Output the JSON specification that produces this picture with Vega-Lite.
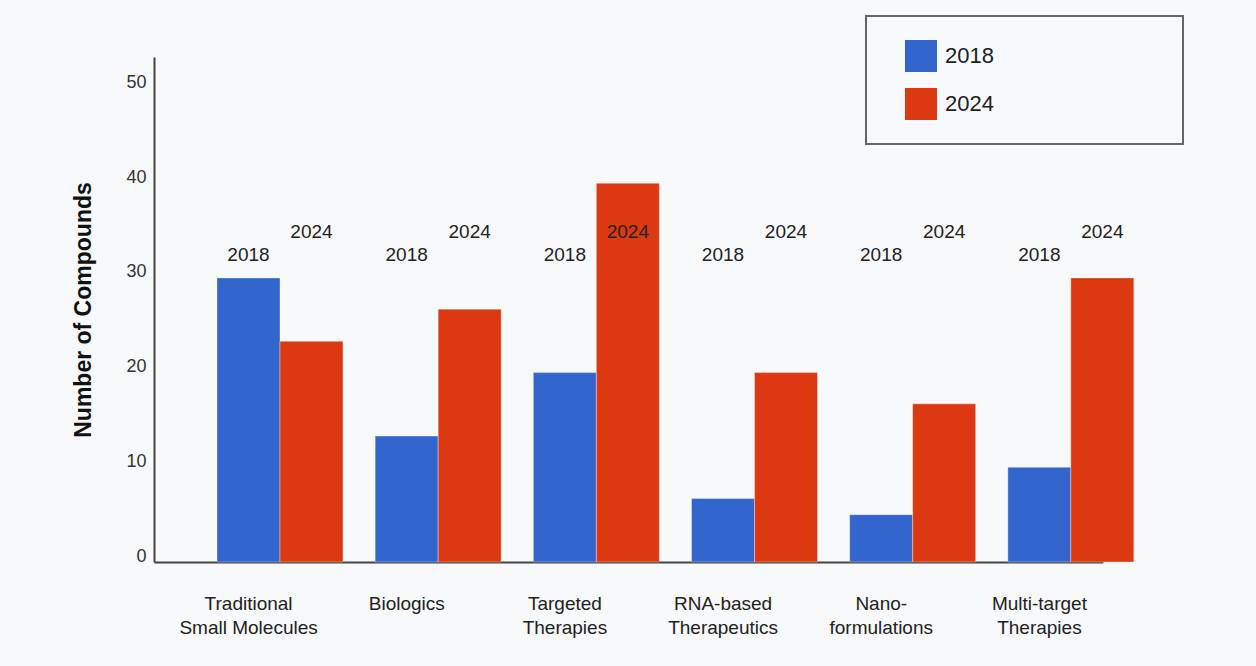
{
  "$schema": "https://vega.github.io/schema/vega-lite/v6.json",
  "width": 949,
  "height": 505,
  "autosize": "none",
  "padding": {"left": 154, "top": 57, "right": 153, "bottom": 104},
  "background": "#f8f9fa",
  "config": {"view": {"stroke": null}, "font": "Liberation Sans", "legend": {"strokeWidth": 2}},
  "data": {
    "values": [
      {"category": "Traditional Small Molecules", "year": "2018", "value": 30},
      {"category": "Traditional Small Molecules", "year": "2024", "value": 23.3},
      {"category": "Biologics", "year": "2018", "value": 13.3},
      {"category": "Biologics", "year": "2024", "value": 26.7},
      {"category": "Targeted Therapies", "year": "2018", "value": 20},
      {"category": "Targeted Therapies", "year": "2024", "value": 40},
      {"category": "RNA-based Therapeutics", "year": "2018", "value": 6.7},
      {"category": "RNA-based Therapeutics", "year": "2024", "value": 20},
      {"category": "Nano-formulations", "year": "2018", "value": 5},
      {"category": "Nano-formulations", "year": "2024", "value": 16.7},
      {"category": "Multi-target Therapies", "year": "2018", "value": 10},
      {"category": "Multi-target Therapies", "year": "2024", "value": 30}
    ]
  },
  "encoding": {
    "x": {
      "field": "category",
      "type": "nominal",
      "sort": null,
      "scale": {"paddingInner": 0, "paddingOuter": 0},
      "axis": {
        "title": null,
        "labelAngle": 0,
        "labelOffset": 15.5,
        "ticks": false,
        "tickSize": 0,
        "domainColor": "#444444",
        "domainWidth": 2,
        "labelFontSize": 19,
        "labelColor": "#222222",
        "labelPadding": 32,
        "labelBaseline": "top",
        "labelLineHeight": 24,
        "labelLimit": 300,
        "labelExpr": "indexof(datum.label, ' ') > 0 ? [slice(datum.label, 0, indexof(datum.label, ' ')), slice(datum.label, indexof(datum.label, ' ') + 1)] : (indexof(datum.label, '-') > 0 ? [slice(datum.label, 0, indexof(datum.label, '-') + 1), slice(datum.label, indexof(datum.label, '-') + 1)] : datum.label)"
      }
    },
    "xOffset": {
      "field": "year",
      "type": "nominal",
      "scale": {"range": [63, 189], "paddingInner": 0, "paddingOuter": 0}
    }
  },
  "layer": [
    {
      "mark": {"type": "bar", "stroke": "white", "strokeOpacity": 0.35, "strokeWidth": 1},
      "encoding": {
        "y": {
          "field": "value",
          "type": "quantitative",
          "scale": {"domain": [0, 53.33], "nice": false},
          "axis": {
            "title": "Number of Compounds",
            "values": [0, 10, 20, 30, 40, 50],
            "grid": false,
            "ticks": false,
            "tickSize": 0,
            "domainColor": "#444444",
            "domainWidth": 2,
            "labelFontSize": 18,
            "labelColor": "#333333",
            "labelPadding": 8,
            "labelOffset": -6,
            "titleFontSize": 23,
            "titleFontWeight": "bold",
            "titleColor": "#111111",
            "titlePadding": 30
          }
        },
        "color": {
          "field": "year",
          "type": "nominal",
          "scale": {"domain": ["2018", "2024"], "range": ["#3366cc", "#dc3912"]},
          "legend": {
            "orient": "none",
            "legendX": 712,
            "legendY": -41,
            "title": " ",
            "titleOrient": "right",
            "titleFontSize": 2,
            "titlePadding": 165,
            "symbolType": "square",
            "symbolSize": 1024,
            "symbolStrokeWidth": 0,
            "symbolOffset": 15,
            "labelFontSize": 22,
            "labelColor": "#222222",
            "labelOffset": 8,
            "rowPadding": 16,
            "padding": 24,
            "strokeColor": "#666666",
            "fillColor": "#f8f9fa"
          }
        }
      }
    },
    {
      "transform": [{"filter": "datum.year == '2018'"}],
      "mark": {"type": "text", "fontSize": 19, "color": "#222222", "baseline": "middle", "align": "center"},
      "encoding": {
        "y": {"datum": 32.4, "type": "quantitative"},
        "text": {"field": "year", "type": "nominal"}
      }
    },
    {
      "transform": [{"filter": "datum.year == '2024'"}],
      "mark": {"type": "text", "fontSize": 19, "color": "#222222", "baseline": "middle", "align": "center"},
      "encoding": {
        "y": {"datum": 34.9, "type": "quantitative"},
        "text": {"field": "year", "type": "nominal"}
      }
    }
  ]
}
